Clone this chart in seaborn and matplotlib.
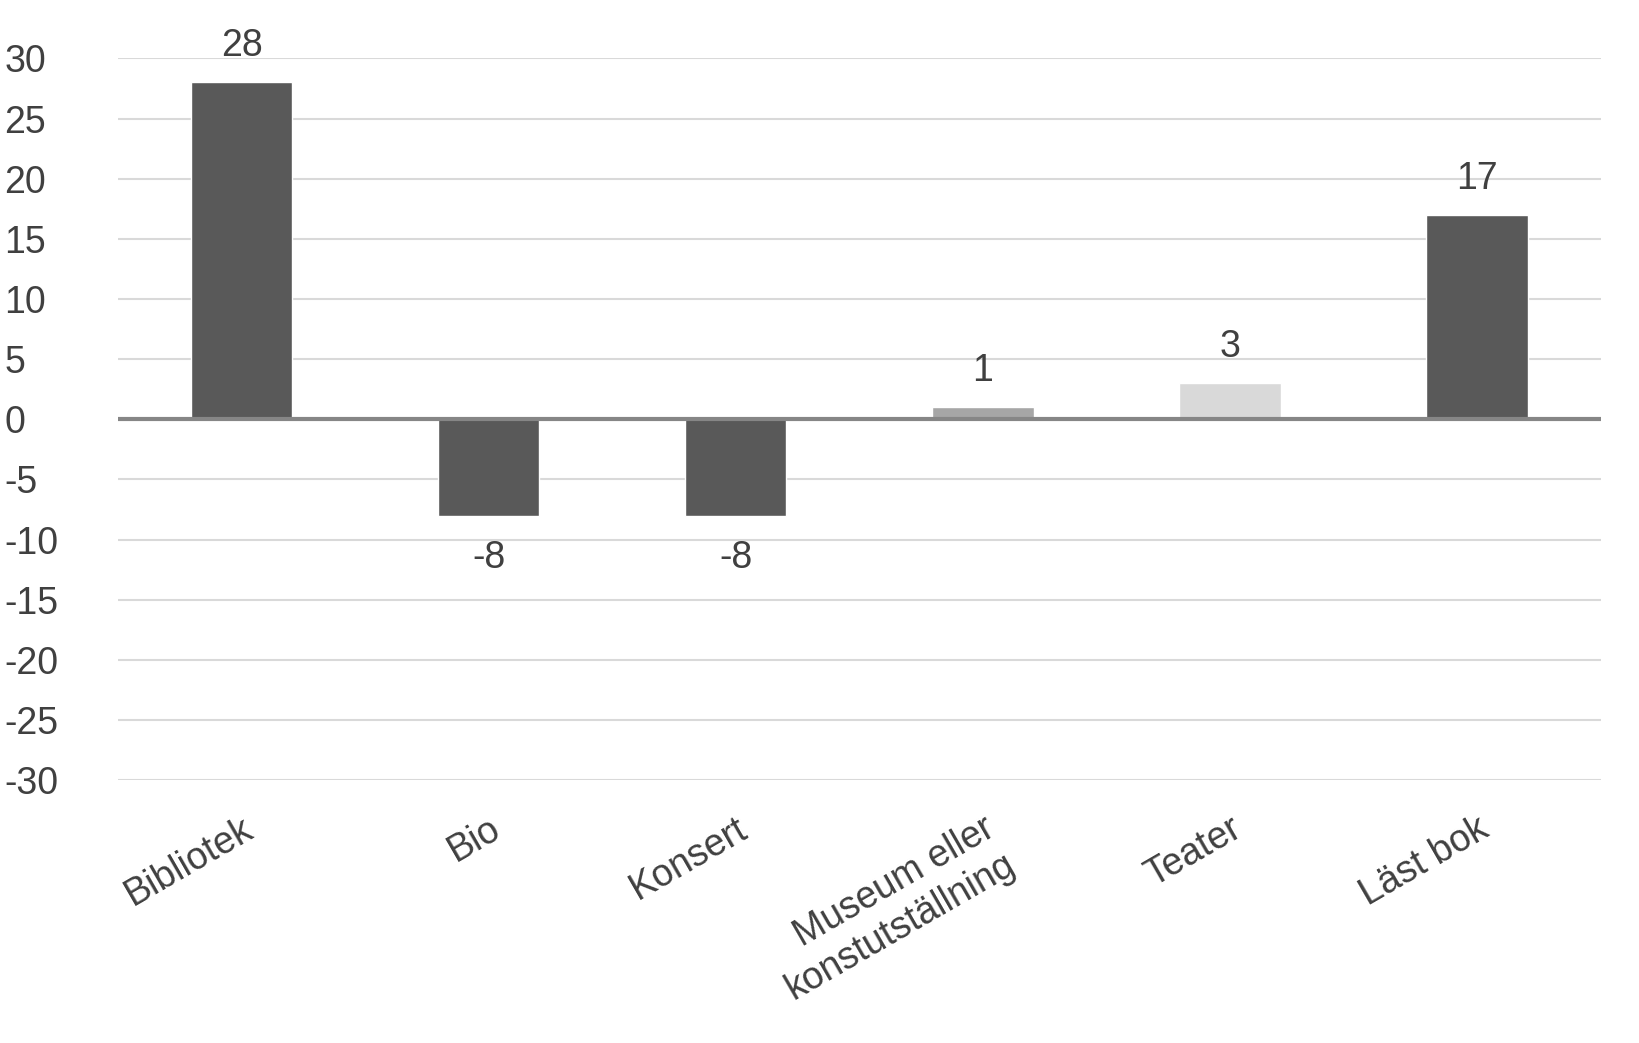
import matplotlib
matplotlib.use("Agg")
import matplotlib.pyplot as plt
import seaborn as sns
import pandas as pd

categories = ["Bibliotek", "Bio", "Konsert", "Museum eller\nkonstutställning", "Teater", "Läst bok"]
values = [28, -8, -8, 1, 3, 17]
colors = ["#595959", "#595959", "#595959", "#a6a6a6", "#d9d9d9", "#595959"]
yticks = list(range(-30, 31, 5))

sns.set_style("white")
plt.rcParams['font.family'] = ['Liberation Sans', 'DejaVu Sans']
plt.rcParams['axes.unicode_minus'] = False

df = pd.DataFrame({"cat": categories, "val": values})
fig = plt.figure(figsize=(16.4, 10.43), dpi=100)
ax = fig.add_axes([0.072, 0.252, 0.904, 0.692])
sns.barplot(data=df, x="cat", y="val", hue="cat", palette=colors, legend=False,
            width=0.41, ax=ax, zorder=3, saturation=1)
ax.set_ylim(-30, 30)
ax.set_yticks(yticks)
ax.set_yticklabels([str(t) for t in yticks])
ax.yaxis.grid(True, color="#d9d9d9", linewidth=1.5, zorder=0)
ax.axhline(0, color="#868686", linewidth=3, zorder=4)
for s in ax.spines.values():
    s.set_visible(False)
ax.set_xlabel("")
ax.set_ylabel("")
ax.tick_params(axis="y", labelsize=27, colors="#404040", length=0, pad=82)
ax.tick_params(axis="x", labelsize=27, colors="#404040", length=0, pad=22)
for lbl in ax.get_yticklabels():
    lbl.set_horizontalalignment("left")
ax.set_xticks(range(len(categories)))
ax.set_xticklabels(categories, rotation=30, ha="right", rotation_mode="anchor")
for i, v in enumerate(values):
    if v >= 0:
        ax.text(i, v + 1.5, str(v), ha="center", va="bottom", fontsize=27, color="#404040")
    else:
        ax.text(i, v - 2.0, str(v), ha="center", va="top", fontsize=27, color="#404040")
ax.set_xlim(-0.5, len(categories) - 0.5)
fig.savefig("out.png", dpi=100)
